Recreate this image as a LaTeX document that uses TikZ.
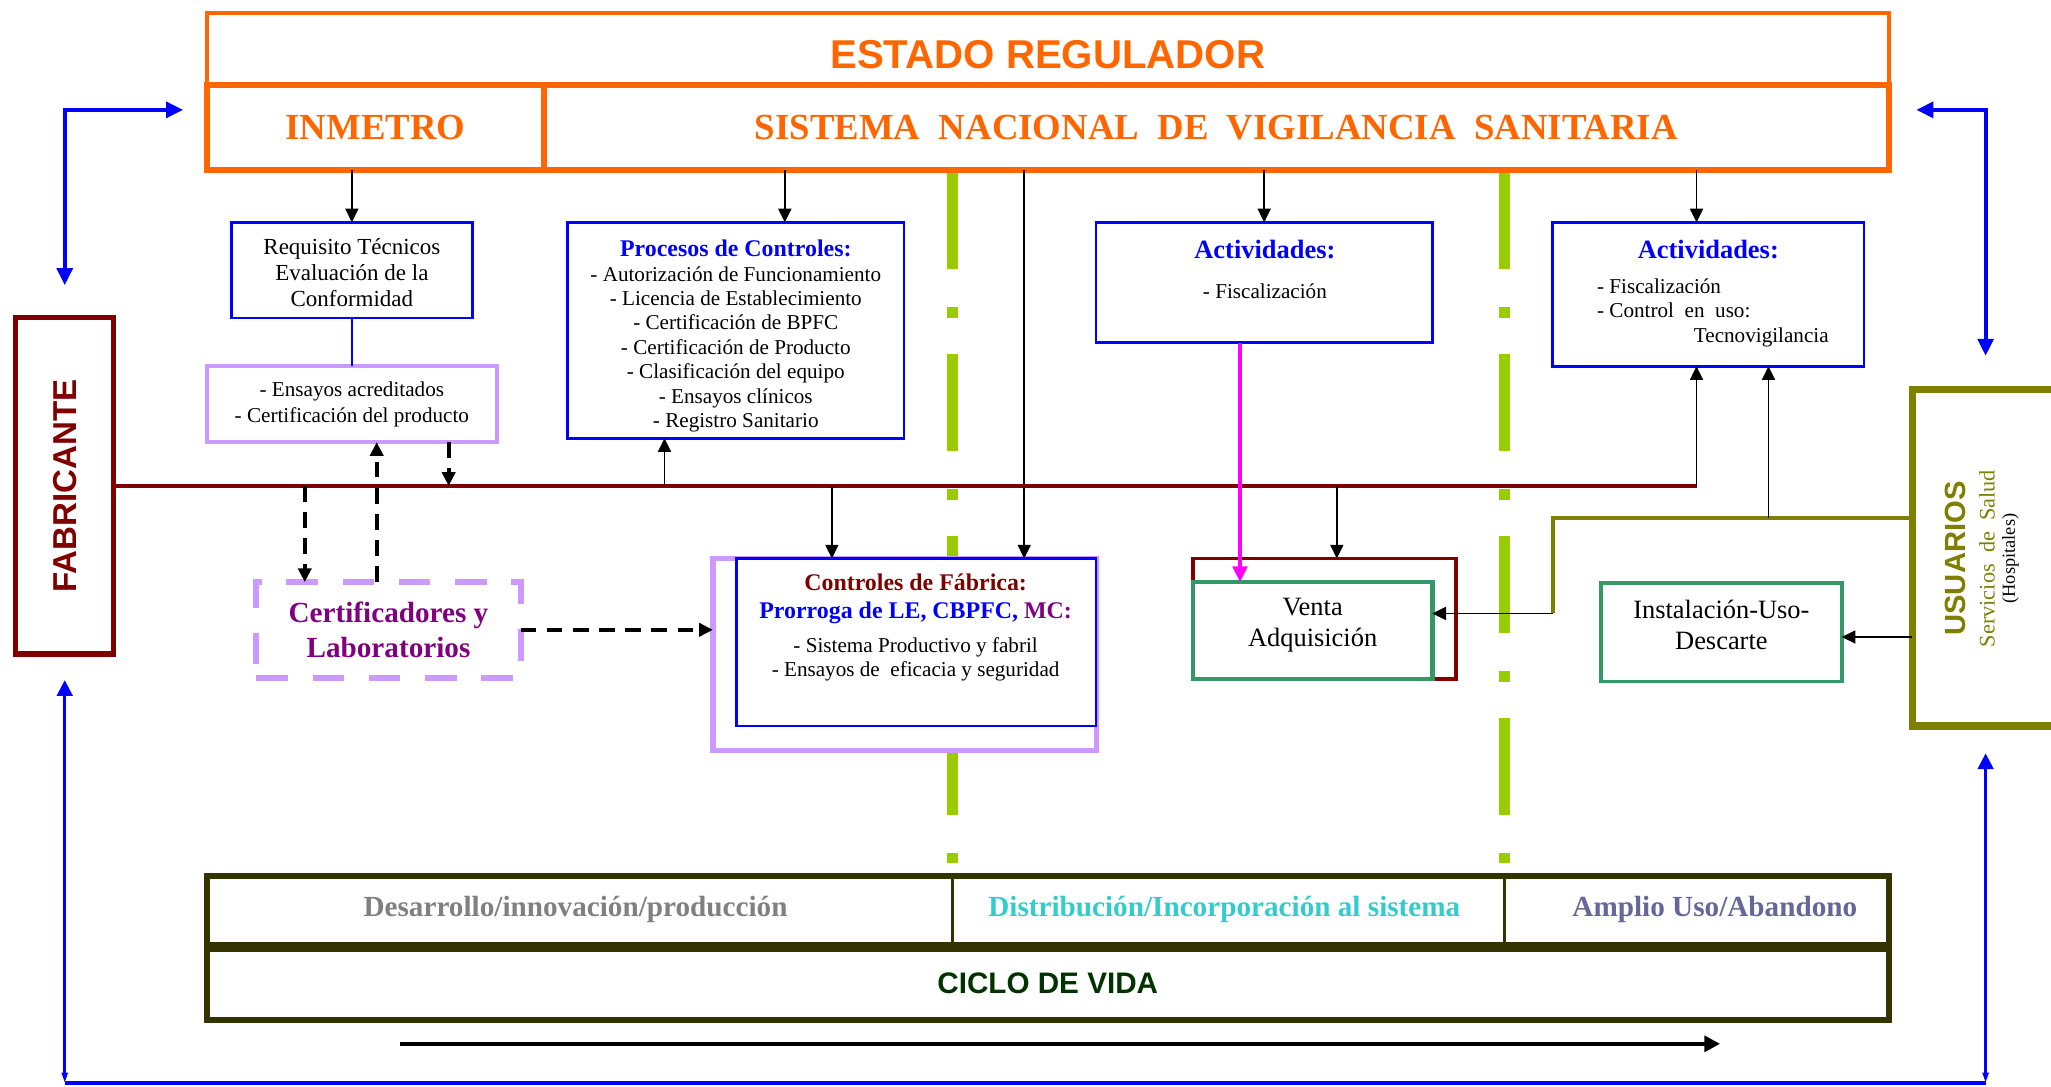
\documentclass[tikz,border=0pt]{standalone}
\usepackage{fontspec}
\setmainfont{Liberation Serif}
\setsansfont{Liberation Sans}
\usepackage{tikz}
\usetikzlibrary{arrows.meta}

\definecolor{naranja}{HTML}{FF6600}
\definecolor{granate}{HTML}{800000}
\definecolor{lila}{HTML}{CC99FF}
\definecolor{morado}{HTML}{800080}
\definecolor{lima}{HTML}{99CC00}
\definecolor{verdemar}{HTML}{339966}
\definecolor{oliva}{HTML}{808000}
\definecolor{olivaosc}{HTML}{333300}
\definecolor{gris}{HTML}{808080}
\definecolor{turquesa}{HTML}{33CCCC}
\definecolor{pizarra}{HTML}{666699}
\definecolor{verdeosc}{HTML}{003300}
\definecolor{fucsia}{HTML}{FF00FF}

\newcommand{\fsz}[2]{\fontsize{#1}{#2}\selectfont}

\begin{document}
\begin{tikzpicture}[x=0.2mm, y=-0.2mm, >={Triangle[length=2.1mm,width=2mm]},
  every node/.style={inner sep=0pt, outer sep=0pt},
  boxbase/.style={draw, fill=white, align=center},
  orangebox/.style={boxbase, draw=naranja, text=naranja, line width=0.9mm, minimum height=13mm, font=\bfseries\fsz{16}{18}},
  bluebox/.style={boxbase, draw=blue, line width=0.4mm},
  lilabox/.style={boxbase, draw=lila},
  greenbox/.style={boxbase, draw=verdemar},
  listtext/.style={font=\fsz{9.2}{10.6}, align=center},
  titletext/.style={text=blue, font=\bfseries\fsz{11.5}{13}},
  cyctext/.style={font=\bfseries\fsz{12.7}{14}},
  arr/.style={->, line width=0.25mm},
  darr/.style={->, line width=0.6mm, dash pattern=on 2.4mm off 1.6mm},
  blueline/.style={blue, line width=0.6mm, {Triangle[length=2.6mm,width=2.4mm]}-{Triangle[length=2.6mm,width=2.4mm]}},
  bluethin/.style={blue, line width=0.4mm, {Triangle[length=2.4mm,width=2.4mm]}-{Triangle[length=1.6mm,width=0.9mm]}},
  phase/.style={lima, line width=1.7mm, dash pattern=on 14.8mm off 5.8mm on 1.6mm off 5.6mm}]

\useasboundingbox (0,0) rectangle (1568,831);
\clip (0,0) rectangle (1568,831);

% Phase separators
\draw[phase] (728,132) -- (728,661);
\draw[phase] (1150,132) -- (1150,661);

% Define nodes
\node (estado) [boxbase, draw=naranja, line width=0.6mm, minimum width=257.2mm, minimum height=11mm, text=naranja, text height=16.5pt, text depth=0pt, font=\sffamily\bfseries\fsz{17.5}{20}] at (801,37.5) {ESTADO REGULADOR};
\node (inmetro) [orangebox, minimum width=51.6mm] at (287,97.5) {INMETRO};
\node (snvs) [orangebox, minimum width=205.6mm] at (930,97.5) {SISTEMA~~NACIONAL~~DE~~VIGILANCIA~~SANITARIA};

\node (req) [bluebox, minimum width=36.8mm, minimum height=14.6mm] at (269,206.5) {};
\node (reqt) [font=\fsz{10}{11.4}, align=center] at (269,208.5) {Requisito Técnicos\\Evaluación de la\\Conformidad};
\node (ens) [lilabox, line width=0.6mm, minimum width=44.4mm, minimum height=11.6mm, font=\fsz{9.2}{11.4}] at (269,309) {- Ensayos acreditados\\- Certificación del producto};
\node (proc) [bluebox, minimum width=51.4mm, minimum height=33mm] at (562.5,252.5) {};
\node (proct) [listtext] at (562.5,257) {{\color{blue}\bfseries\fsz{10.4}{12}Procesos de Controles:}\\- Autorización de Funcionamiento\\- Licencia de Establecimiento\\- Certificación de BPFC\\- Certificación de Producto\\- Clasificación del equipo\\- Ensayos clínicos\\- Registro Sanitario};

\node (act1) [bluebox, minimum width=51.4mm, minimum height=18.4mm] at (966.5,216) {};
\node (act1t) [titletext] at (967,191) {Actividades:};
\node (act1l) [listtext] at (967,223) {- Fiscalización};
\node (act2) [bluebox, minimum width=47.6mm, minimum height=22mm] at (1306,225) {};
\node (act2t) [titletext] at (1306,191) {Actividades:};
\node (act2l) [listtext, anchor=west, align=left] at (1221,239) {- Fiscalización\\- Control~~en~~uso:\\\hspace*{14.8mm}Tecnovigilancia};

\node (fab) [boxbase, draw=granate, line width=0.8mm, minimum width=15mm, minimum height=51.4mm] at (49.5,371.5) {};
\node (fabt) [rotate=90, text=granate, font=\sffamily\bfseries\fsz{14.4}{16}] at (fab) {FABRICANTE};
\node (usu) [boxbase, draw=oliva, line width=1.1mm, minimum width=27.6mm, minimum height=51.4mm] at (1531,426.5) {};
\node (usut) [rotate=90, text=oliva, font=\sffamily\bfseries\fsz{12.7}{14}] at (1495,427) {USUARIOS};
\node (usus) [rotate=90, text=oliva, font=\fsz{9.7}{11}] at (1519,427) {Servicios~~de~~Salud};
\node (usuh) [rotate=90, font=\fsz{8}{9}] at (1537,427) {(Hospitales)};

\node (cert) [lilabox, line width=0.9mm, dash pattern=on 4.8mm off 3.8mm, minimum width=40.4mm, minimum height=14.6mm, text=morado, font=\bfseries\fsz{12.7}{15.4}] at (297,481.5) {Certificadores y\\Laboratorios};
\node (ctlout) [lilabox, line width=0.8mm, minimum width=58.6mm, minimum height=29.4mm] at (691.5,500.5) {};
\node (ctl) [bluebox, minimum width=55mm, minimum height=25.6mm] at (700.5,491) {};
\node (ctlt) [listtext] at (700,480) {{\bfseries\fsz{10.4}{12}\color{granate}Controles de Fábrica:}\\[1.4pt]{\bfseries\fsz{10.4}{12}\color{blue}Prorroga de LE, CBPFC, \color{morado}MC:}\\[4.2pt]- Sistema Productivo y fabril\\- Ensayos de~~eficacia y seguridad};

\node (ventaout) [boxbase, draw=granate, line width=0.5mm, minimum width=40.2mm, minimum height=18.4mm] at (1012.5,473) {};
\node (venta) [greenbox, line width=0.7mm, minimum width=36.6mm, minimum height=14.8mm] at (1003.5,482) {};
\node (ventat) [font=\fsz{11.5}{13.6}, align=center] at (1003.5,478) {Venta\\Adquisición};
\node (inst) [greenbox, line width=0.6mm, minimum width=36.8mm, minimum height=15mm] at (1316,483.5) {};
\node (instt) [font=\fsz{11.5}{13.6}, align=center] at (1316,478) {Instalación-Uso-\\Descarte};

% Life cycle table
\draw[olivaosc, line width=0.9mm] (158,670) rectangle (1444,780);
\draw[olivaosc, line width=1.6mm] (158,724) -- (1444,724);
\draw[olivaosc, line width=0.4mm] (728,672) -- (728,720) (1150,672) -- (1150,720);
\node (des) [cyctext, text=gris] at (440,695) {Desarrollo/innovación/producción};
\node (dis) [cyctext, text=turquesa] at (936,695) {Distribución/Incorporación al sistema};
\node (amp) [cyctext, text=pizarra] at (1311,695) {Amplio Uso/Abandono};
\node (ciclo) [text=verdeosc, font=\sffamily\bfseries\fsz{12.9}{15}] at (801,752) {CICLO DE VIDA};

% Points on the boxes
\coordinate (pr) at ([xshift=7.5mm]proc.north);
\coordinate (cf) at ([xshift=16.5mm]ctl.north);
\coordinate (a2) at ([xshift=-1.8mm]act2.north);
\coordinate (a3) at ([xshift=9.2mm]act2.south);
\coordinate (fe) at (fab.east -| a2);
\coordinate (c1) at ([xshift=-12.8mm]cert.north);
\coordinate (c2) at ([xshift=-1.8mm]cert.north);
\coordinate (e1) at ([xshift=14.8mm]ens.south);
\coordinate (p2) at ([xshift=-10.9mm]proc.south);
\coordinate (k1) at ([xshift=-12.9mm]ctl.north);
\coordinate (v1) at ([xshift=1.9mm]ventaout.north);
\coordinate (m1) at ([xshift=-3.7mm]act1.south);
\coordinate (o1) at ([yshift=6.1mm]usu.west);
\coordinate (o2) at ([yshift=2.6mm]venta.east);
\coordinate (u2) at ([yshift=-12.1mm]usu.west);
\coordinate (ub) at ([xshift=-2.6mm,yshift=-4.2mm]usu.south);
\coordinate (bl) at (fab.south |- 0,828);
\coordinate (br) at (ub |- bl);
\coordinate (ca) at (306,798);
\coordinate (cb) at (1315,798);

% Draw edges from the regulator
\draw[arr] (req.north |- inmetro.south) -- (req.north);
\draw[arr] (pr |- snvs.south) -- (pr);
\draw[arr] (cf |- snvs.south) -- (cf);
\draw[arr] (act1.north |- snvs.south) -- (act1.north);
\draw[arr] (a2 |- snvs.south) -- (a2);
\draw[blue, line width=0.3mm] (req) -- (ens);

% Draw edges of the manufacturer
\draw[granate, line width=0.6mm] (fab.east) -- (fe);
\draw[arr] (fe) -- (a2 |- act2.south);
\draw[darr] (c1 |- fab.east) -- (c1);
\draw[darr] (c2) -- (c2 |- ens.south);
\draw[darr] (e1) -- (e1 |- fab.east);
\draw[darr] (cert.east) -- (cert.east -| ctlout.west);
\draw[arr] (p2 |- fab.east) -- (p2);
\draw[arr] (k1 |- fab.east) -- (k1);
\draw[arr] (v1 |- fab.east) -- (v1);
\draw[->, fucsia, line width=0.6mm, >={Triangle[length=2.4mm,width=2.2mm]}] (m1) -- (m1 |- venta.north);

% Draw edges of the users
\draw[oliva, line width=0.6mm] (o1) -| (act2.west |- o2);
\draw[arr] (act2.west |- o2) -- (o2);
\draw[arr] (a3 |- o1) -- (a3);
\draw[arr] (u2) -- (u2 -| inst.east);

% Outer loop
\draw[blueline] ([yshift=5mm]fab.north) |- ([xshift=-3.6mm,yshift=2.7mm]inmetro.west);
\draw[blueline] ([xshift=-2.6mm,yshift=5.2mm]usu.north) |- ([xshift=4.2mm,yshift=2.7mm]snvs.east);
\draw[bluethin] ([yshift=-4mm]fab.south) -- (bl);
\draw[bluethin] (ub) -- (br);
\draw[blue, line width=0.7mm] (bl) -- (br);
\draw[->, line width=0.7mm, >={Triangle[length=2.4mm,width=2.4mm]}] (ca) -- (cb);

\end{tikzpicture}
\end{document}
